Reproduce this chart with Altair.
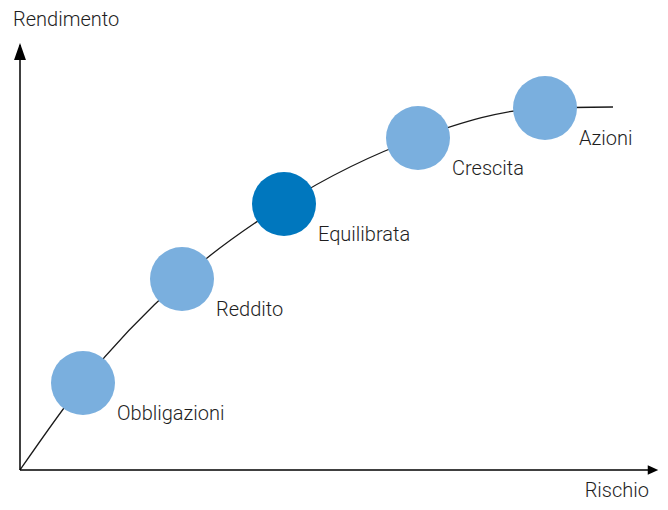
import altair as alt
import pandas as pd

# Portfolio profiles along the risk/return curve (chart units: risk, return)
profiles = ["Obbligazioni", "Reddito", "Equilibrata", "Crescita", "Azioni"]
risk = [63, 162, 264, 398, 525]
ret = [87, 191, 266, 332, 362]
highlight = [False, False, True, False, False]

# Curve through the profiles, from the origin to its flat end
curve_risk = [0, 63, 162, 264, 398, 525, 593]
curve_ret = [0, 87, 191, 266, 332, 362, 363]

# Axis extents and titles
x_axis_end = 630
y_axis_end = 425
x_title = "Rischio"
y_title = "Rendimento"

xs = alt.Scale(domain=[-12, 640], nice=False, zero=False)
ys = alt.Scale(domain=[-32, 462], nice=False, zero=False)

FONT = "Roboto"
FW = 300
FS = 20
TXT = "#1e1e1e"

curve_df = pd.DataFrame({"x": curve_risk, "y": curve_ret})
pts_df = pd.DataFrame({"x": risk, "y": ret, "name": profiles, "hl": highlight})

X = alt.X("x:Q", scale=xs, axis=None)
Y = alt.Y("y:Q", scale=ys, axis=None)

curve = alt.Chart(curve_df).mark_line(
    interpolate="monotone", color="#1a1a1a", strokeWidth=1.3
).encode(x=X, y=Y)

circles = alt.Chart(pts_df).mark_point(
    shape="circle", filled=True, opacity=1, size=4096, strokeWidth=0
).encode(
    x=X, y=Y,
    color=alt.Color("hl:N", scale=alt.Scale(domain=[False, True], range=["#7aafde", "#0077be"]), legend=None),
)

labels = alt.Chart(pts_df).mark_text(
    align="left", baseline="alphabetic", dx=34, dy=37, font=FONT, fontWeight=FW, fontSize=FS, color=TXT
).encode(x=X, y=Y, text="name:N")

axes_df = pd.DataFrame({"x": [0, 0], "x2": [0, x_axis_end], "y": [0, 0], "y2": [y_axis_end, 0]})
axes = alt.Chart(axes_df).mark_rule(color="#000000", strokeWidth=1.5).encode(
    x=X, x2="x2:Q", y=Y, y2="y2:Q",
)

up_df = pd.DataFrame({"x": [0], "y": [418.5]})
up_arrow = alt.Chart(up_df).mark_point(
    shape="M0,-1L0.7,1L-0.7,1Z", filled=True, opacity=1, size=289, color="#000000", strokeWidth=0
).encode(x=X, y=Y)

right_df = pd.DataFrame({"x": [633], "y": [0]})
right_arrow = alt.Chart(right_df).mark_point(
    shape="M1,0L-1,0.9L-1,-0.9Z", filled=True, opacity=1, size=110, color="#000000", strokeWidth=0
).encode(x=X, y=Y)

titles_df = pd.DataFrame({"x": [-7, 629], "y": [444, -27], "t": [y_title, x_title]})
ytitle = alt.Chart(titles_df.iloc[[0]]).mark_text(
    align="left", baseline="alphabetic", font=FONT, fontWeight=FW, fontSize=FS, color=TXT
).encode(x=X, y=Y, text="t:N")
xtitle = alt.Chart(titles_df.iloc[[1]]).mark_text(
    align="right", baseline="alphabetic", font=FONT, fontWeight=FW, fontSize=FS, color=TXT
).encode(x=X, y=Y, text="t:N")

chart = alt.layer(curve, axes, up_arrow, right_arrow, circles, labels, ytitle, xtitle).properties(
    width=652, height=494, padding=0, autosize=alt.AutoSizeParams(type="none")
).configure_view(stroke=None)

chart.save("out.html", embed_options={"renderer": "svg", "actions": False})
